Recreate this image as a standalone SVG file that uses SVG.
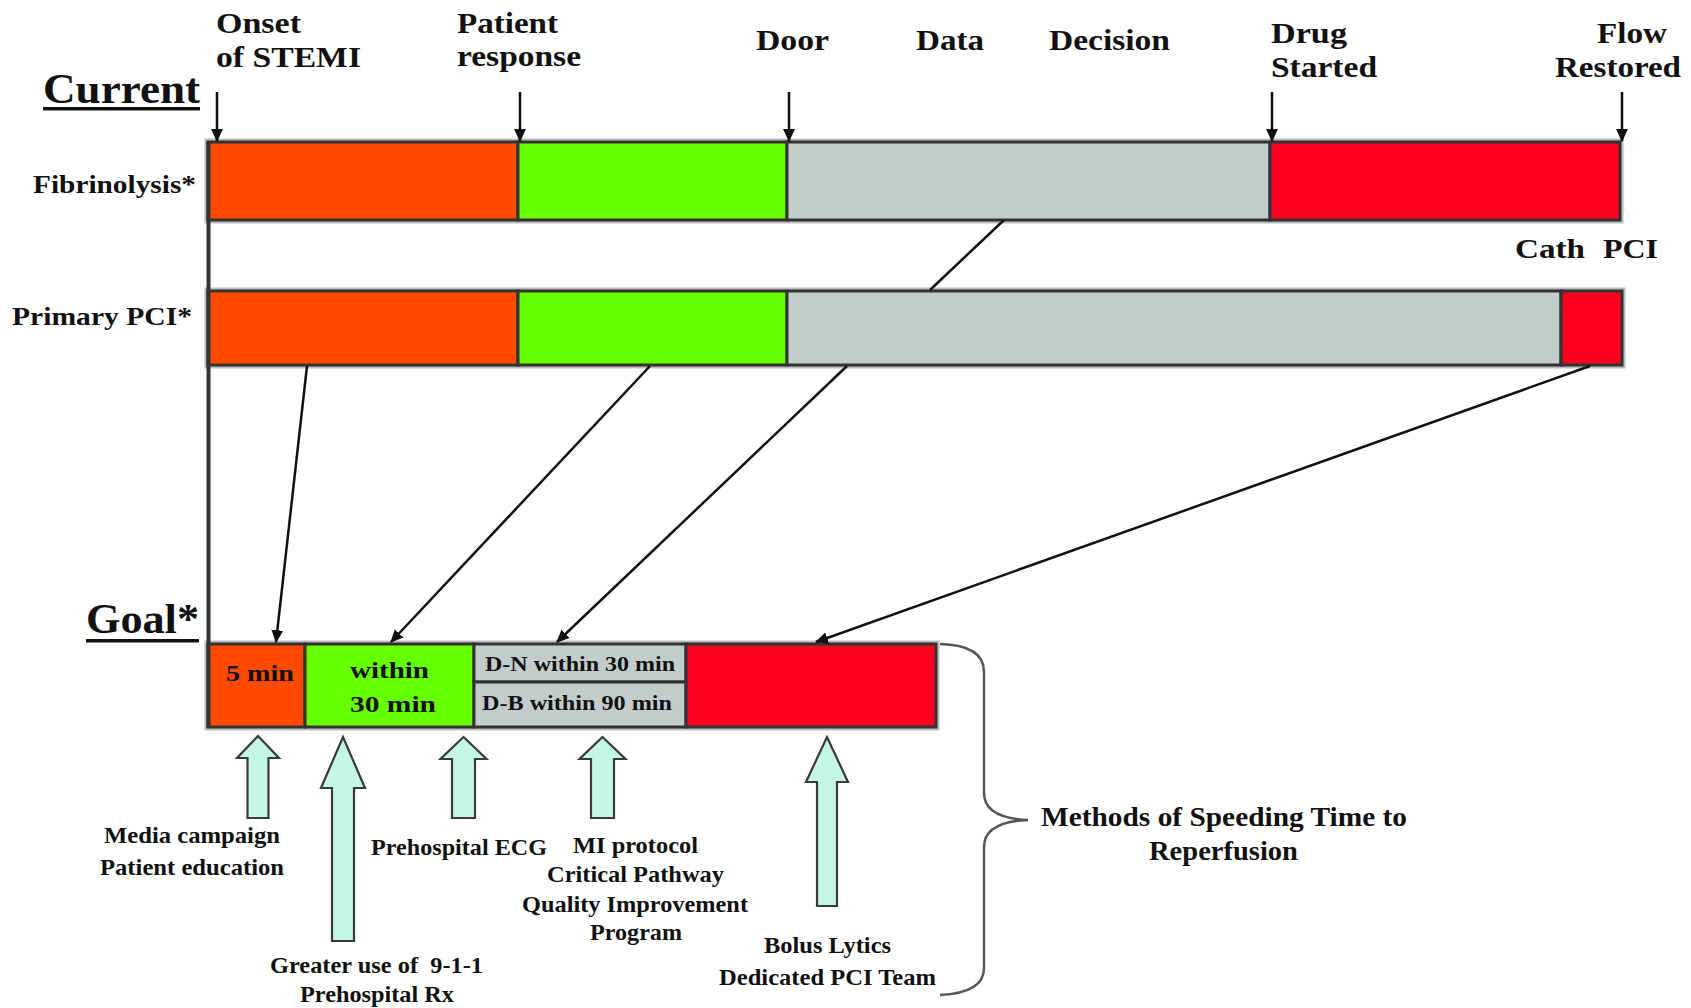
<svg xmlns="http://www.w3.org/2000/svg" width="1691" height="1008" viewBox="0 0 1691 1008">
<defs>
<style>
text{font-family:"Liberation Serif","Times New Roman",serif;font-weight:bold;fill:#111}
.t30{font-size:30px}
.t42{font-size:42px}
.t25{font-size:25px}
.t24{font-size:24px}
.t20{font-size:20px}
.t28{font-size:28px}
.seg{stroke:#333;stroke-width:3}
.or{fill:#FF4A00}.gr{fill:#66FF00}.gy{fill:#C2CCCB}.rd{fill:#FF0020}
.halo{fill:none;stroke:#bdbdbd;stroke-width:7}
.conn{stroke:#111;stroke-width:2.5;fill:none}
.hol{fill:#C4F7E6;stroke:#3a3a3a;stroke-width:2.2}
</style>
<marker id="ah" viewBox="0 0 12 12" refX="11" refY="6" markerWidth="13" markerHeight="13" orient="auto" markerUnits="userSpaceOnUse">
<path d="M0,0.5 L12,6 L0,11.5 z" fill="#111"/>
</marker>
</defs>
<rect width="1691" height="1008" fill="#fff"/>

<g id="headings">
<text class="t42" x="43" y="103" textLength="157" lengthAdjust="spacingAndGlyphs">Current</text>
<rect x="43" y="107" width="157" height="3.5" fill="#111"/>
<text class="t42" x="86" y="633" textLength="113" lengthAdjust="spacingAndGlyphs">Goal*</text>
<rect x="86" y="639" width="113" height="3.5" fill="#111"/>
</g>

<g id="milestones">
<text class="t30" x="216" y="33" textLength="85" lengthAdjust="spacingAndGlyphs">Onset</text>
<text class="t30" x="216" y="67" textLength="145" lengthAdjust="spacingAndGlyphs">of STEMI</text>
<text class="t30" x="457" y="33" textLength="101" lengthAdjust="spacingAndGlyphs">Patient</text>
<text class="t30" x="457" y="66" textLength="124" lengthAdjust="spacingAndGlyphs">response</text>
<text class="t30" x="756" y="50" textLength="73" lengthAdjust="spacingAndGlyphs">Door</text>
<text class="t30" x="916" y="50" textLength="68" lengthAdjust="spacingAndGlyphs">Data</text>
<text class="t30" x="1049" y="50" textLength="121" lengthAdjust="spacingAndGlyphs">Decision</text>
<text class="t30" x="1271" y="43" textLength="76" lengthAdjust="spacingAndGlyphs">Drug</text>
<text class="t30" x="1271" y="77" textLength="106" lengthAdjust="spacingAndGlyphs">Started</text>
<text class="t30" x="1597" y="43" textLength="70" lengthAdjust="spacingAndGlyphs">Flow</text>
<text class="t30" x="1555" y="77" textLength="126" lengthAdjust="spacingAndGlyphs">Restored</text>
</g>

<g id="fibrinolysis">
<text class="t25" x="33" y="193" textLength="163" lengthAdjust="spacingAndGlyphs">Fibrinolysis*</text>
<rect class="halo" x="208" y="142" width="1412" height="78"/>
<rect class="seg or" x="208" y="142" width="310" height="78"/>
<rect class="seg gr" x="518" y="142" width="269" height="78"/>
<rect class="seg gy" x="787" y="142" width="483" height="78"/>
<rect class="seg rd" x="1270" y="142" width="350" height="78"/>
</g>

<g id="cath-label">
<text class="t28" x="1515" y="258"><tspan textLength="70" lengthAdjust="spacingAndGlyphs">Cath</tspan><tspan x="1603" textLength="55" lengthAdjust="spacingAndGlyphs">PCI</tspan></text>
</g>

<g id="primary-pci">
<text class="t25" x="12" y="325" textLength="180" lengthAdjust="spacingAndGlyphs">Primary PCI*</text>
<rect class="halo" x="208" y="291" width="1414" height="74"/>
<rect class="seg or" x="208" y="291" width="310" height="74"/>
<rect class="seg gr" x="518" y="291" width="269" height="74"/>
<rect class="seg gy" x="787" y="291" width="774" height="74"/>
<rect class="seg rd" x="1561" y="291" width="61" height="74"/>
</g>

<g id="goal">
<rect class="halo" x="208" y="644" width="728" height="83"/>
<rect class="seg or" x="208" y="644" width="97" height="83"/>
<rect class="seg gr" x="305" y="644" width="169" height="83"/>
<rect class="seg gy" x="474" y="644" width="212" height="38"/>
<rect class="seg gy" x="474" y="682" width="212" height="45"/>
<rect class="seg rd" x="686" y="644" width="250" height="83"/>
<text class="t24" x="226" y="681" textLength="68" lengthAdjust="spacingAndGlyphs">5 min</text>
<text class="t24" x="350" y="678" textLength="79" lengthAdjust="spacingAndGlyphs">within</text>
<text class="t24" x="350" y="712" textLength="86" lengthAdjust="spacingAndGlyphs">30 min</text>
<text class="t20" x="485" y="671" textLength="190" lengthAdjust="spacingAndGlyphs">D-N within 30 min</text>
<text class="t20" x="482" y="710" textLength="190" lengthAdjust="spacingAndGlyphs">D-B within 90 min</text>
</g>

<g id="connectors">
<line x1="208.5" y1="141" x2="208.5" y2="728" stroke="#333" stroke-width="4"/>
<line class="conn" x1="217" y1="92" x2="217" y2="141" marker-end="url(#ah)"/>
<line class="conn" x1="520" y1="92" x2="520" y2="141" marker-end="url(#ah)"/>
<line class="conn" x1="789" y1="92" x2="789" y2="141" marker-end="url(#ah)"/>
<line class="conn" x1="1272" y1="92" x2="1272" y2="141" marker-end="url(#ah)"/>
<line class="conn" x1="1622" y1="92" x2="1622" y2="141" marker-end="url(#ah)"/>
<line class="conn" x1="1004" y1="220" x2="930" y2="290"/>
<line class="conn" x1="307" y1="366" x2="276" y2="642" marker-end="url(#ah)"/>
<line class="conn" x1="650" y1="366" x2="391" y2="642" marker-end="url(#ah)"/>
<line class="conn" x1="847" y1="366" x2="557" y2="642" marker-end="url(#ah)"/>
<line class="conn" x1="1590" y1="366" x2="816" y2="642" marker-end="url(#ah)"/>
</g>

<g id="method-arrows">
<path class="hol" d="M258,736 L279,758 L268.5,758 L268.5,818 L247.5,818 L247.5,758 L237,758 Z"/>
<path class="hol" d="M343,737 L365,788 L354,788 L354,941 L332,941 L332,788 L321,788 Z"/>
<path class="hol" d="M463.5,737 L486.5,759 L475,759 L475,818 L452,818 L452,759 L440.5,759 Z"/>
<path class="hol" d="M602.5,737 L625.5,759 L614,759 L614,818 L591,818 L591,759 L579.5,759 Z"/>
<path class="hol" d="M827,737 L848,782 L837,782 L837,906 L817,906 L817,782 L806,782 Z"/>
</g>

<g id="method-labels">
<text class="t24" x="104" y="843" textLength="176" lengthAdjust="spacingAndGlyphs">Media campaign</text>
<text class="t24" x="100" y="875" textLength="184" lengthAdjust="spacingAndGlyphs">Patient education</text>
<text class="t24" x="371" y="855" textLength="176" lengthAdjust="spacingAndGlyphs">Prehospital ECG</text>
<text class="t24" x="573" y="853" textLength="125" lengthAdjust="spacingAndGlyphs">MI protocol</text>
<text class="t24" x="547" y="882" textLength="177" lengthAdjust="spacingAndGlyphs">Critical Pathway</text>
<text class="t24" x="522" y="912" textLength="226" lengthAdjust="spacingAndGlyphs">Quality Improvement</text>
<text class="t24" x="590" y="940" textLength="92" lengthAdjust="spacingAndGlyphs">Program</text>
<text class="t24" x="270" y="973" textLength="213" lengthAdjust="spacingAndGlyphs" xml:space="preserve">Greater use of  9-1-1</text>
<text class="t24" x="300" y="1002" textLength="154" lengthAdjust="spacingAndGlyphs">Prehospital Rx</text>
<text class="t24" x="764" y="953" textLength="127" lengthAdjust="spacingAndGlyphs">Bolus Lytics</text>
<text class="t24" x="719" y="985" textLength="217" lengthAdjust="spacingAndGlyphs">Dedicated PCI Team</text>
</g>

<g id="brace">
<path d="M940,644 Q984,645 984,672 L984,793 Q984,818 1028,820 Q984,822 984,847 L984,968 Q984,993 940,995" fill="none" stroke="#555" stroke-width="2.5"/>
<text class="t28" x="1041" y="826" textLength="366" lengthAdjust="spacingAndGlyphs">Methods of Speeding Time to</text>
<text class="t28" x="1149" y="860" textLength="149" lengthAdjust="spacingAndGlyphs">Reperfusion</text>
</g>
</svg>
